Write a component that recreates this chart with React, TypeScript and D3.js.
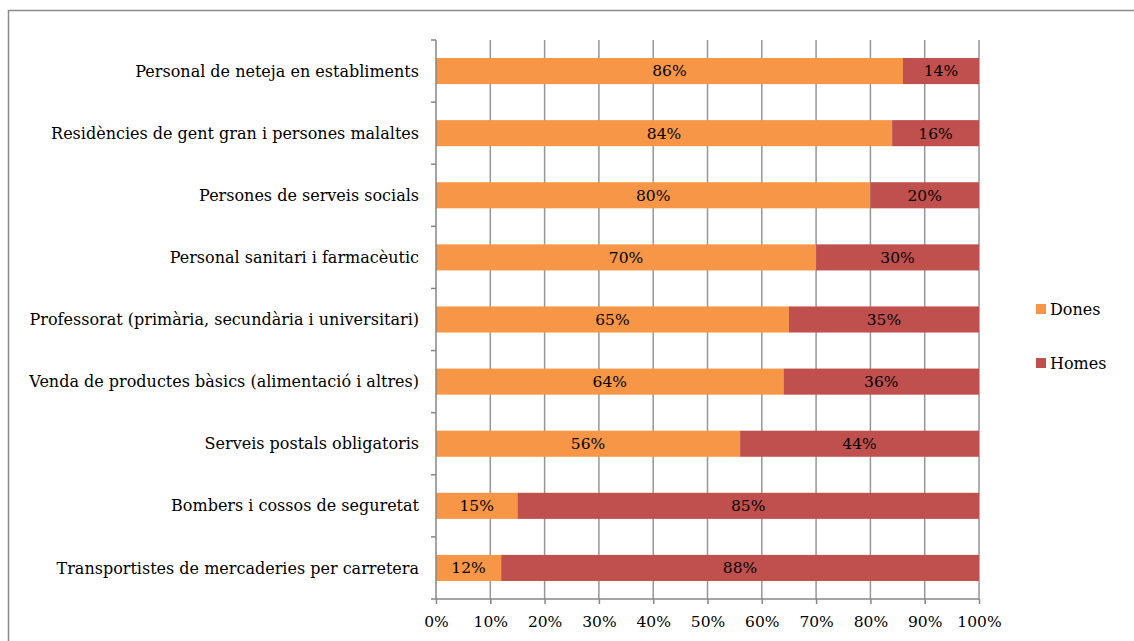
import React, { useEffect, useRef } from "react";
import * as d3 from "d3";

const categories = [
  "Personal de neteja en establiments",
  "Residències de gent gran i persones malaltes",
  "Persones de serveis socials",
  "Personal sanitari i farmacèutic",
  "Professorat (primària, secundària i universitari)",
  "Venda de productes bàsics (alimentació i altres)",
  "Serveis postals obligatoris",
  "Bombers i cossos de seguretat",
  "Transportistes de mercaderies per carretera",
];
const dones = [86, 84, 80, 70, 65, 64, 56, 15, 12];
const homes = [14, 16, 20, 30, 35, 36, 44, 85, 88];
const xTicks = [0, 10, 20, 30, 40, 50, 60, 70, 80, 90, 100];
const seriesNames = ["Dones", "Homes"];
const colors = ["#F79646", "#C0504D"];

const FONT = "'DejaVu Serif', Georgia, serif";

export default function App() {
  const ref = useRef<SVGSVGElement>(null);

  useEffect(() => {
    const svg = d3.select(ref.current);
    svg.selectAll("*").remove();

    const left = 436, right = 979, top = 40, bottom = 599;
    const x = d3.scaleLinear().domain([0, 100]).range([left, right]);
    const y = d3.scaleBand<string>().domain(categories).range([top, bottom]).paddingInner(0.58).paddingOuter(0.29);

    // frame
    svg.append("rect").attr("x", 8.5).attr("y", 10.5).attr("width", 1140).attr("height", 640)
      .attr("fill", "none").attr("stroke", "#8a8a8a").attr("stroke-width", 1.5);

    // gridlines
    svg.append("g").selectAll("line").data(xTicks.slice(1)).join("line")
      .attr("x1", d => x(d)).attr("x2", d => x(d)).attr("y1", top).attr("y2", bottom)
      .attr("stroke", "#969696").attr("stroke-width", 1.5);

    // bars
    const rows = categories.map((c, i) => ({ c, vals: [dones[i], homes[i]] }));
    const g = svg.append("g");
    rows.forEach(r => {
      let acc = 0;
      r.vals.forEach((v, j) => {
        const x0 = acc;
        acc += v;
        g.append("rect").attr("x", x(x0)).attr("y", y(r.c)!).attr("width", x(acc) - x(x0))
          .attr("height", y.bandwidth()).attr("fill", colors[j]);
        g.append("text").attr("x", (x(x0) + x(acc)) / 2).attr("y", y(r.c)! + y.bandwidth() / 2)
          .attr("dy", "0.35em").attr("text-anchor", "middle").attr("font-family", FONT)
          .attr("font-size", 15.5).attr("fill", "#000").text(`${v}%`);
      });
    });

    // y axis
    const yAxis = svg.append("g").attr("transform", `translate(${left},0)`);
    yAxis.append("line").attr("x1", 0).attr("x2", 0).attr("y1", top).attr("y2", bottom)
      .attr("stroke", "#868686").attr("stroke-width", 1.5);
    const yt = d3.range(categories.length + 1).map(i => top + (i * (bottom - top)) / categories.length);
    yAxis.selectAll("line.t").data(yt).join("line").attr("class", "t")
      .attr("x1", -5).attr("x2", 0).attr("y1", d => d).attr("y2", d => d)
      .attr("stroke", "#868686").attr("stroke-width", 1.5);
    yAxis.selectAll("text").data(categories).join("text")
      .attr("x", -17).attr("y", d => y(d)! + y.bandwidth() / 2).attr("dy", "0.35em")
      .attr("text-anchor", "end").attr("font-family", FONT).attr("font-size", 16).attr("fill", "#000")
      .text(d => d);

    // x axis
    const xAxis = svg.append("g").attr("transform", `translate(0,${bottom})`)
      .call(d3.axisBottom(x).tickValues(xTicks).tickSize(5).tickFormat(d => `${d}%`));
    xAxis.select(".domain").attr("stroke", "#868686").attr("stroke-width", 1.5).attr("d", `M${left},0H${right}`);
    xAxis.selectAll(".tick line").attr("stroke", "#868686").attr("stroke-width", 1.5);
    xAxis.selectAll(".tick text").attr("font-family", FONT).attr("font-size", 15.5).attr("fill", "#000")
      .attr("y", 23).attr("dy", "0.35em");

    // legend
    const leg = svg.append("g");
    seriesNames.forEach((n, i) => {
      const cy = 309 + i * 54;
      leg.append("rect").attr("x", 1036).attr("y", cy - 5).attr("width", 10).attr("height", 10).attr("fill", colors[i]);
      leg.append("text").attr("x", 1050).attr("y", cy).attr("dy", "0.35em").attr("font-family", FONT)
        .attr("font-size", 16).attr("fill", "#000").text(n);
    });
  }, []);

  return (
    <svg ref={ref} width={1134} height={641} style={{ position: "absolute", left: 0, top: 0, background: "#fff" }} />
  );
}
